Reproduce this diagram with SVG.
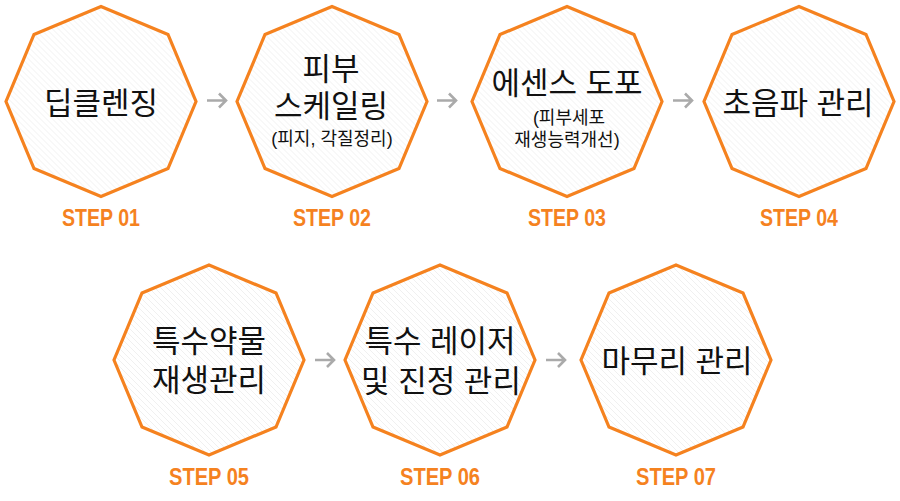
<svg xmlns="http://www.w3.org/2000/svg" width="900" height="501" viewBox="0 0 900 501">
<defs>
<pattern id="hatch" patternUnits="userSpaceOnUse" width="6" height="6">
<path d="M-1,-1 L7,7 M-1,5 L1,7 M5,-1 L7,1" stroke="#ececec" stroke-width="0.8" fill="none"/>
</pattern>
<polygon id="oct" points="0,-95 67,-67 95,0 67,67 0,95 -67,67 -95,0 -67,-67"/>
<path id="arr" d="M0,0 H19 M12,-7 L19,0 L12,7"/>
</defs>
<style>
.oct{fill:url(#hatch);stroke:#f5821f;stroke-width:3.2;stroke-linejoin:miter}
.t{font-family:"Liberation Sans","Noto Sans CJK KR",sans-serif;font-size:31px;fill:#111;text-anchor:middle}
.s{font-family:"Liberation Sans","Noto Sans CJK KR",sans-serif;font-size:18px;fill:#111;text-anchor:middle}
.st{font-family:"Liberation Sans",Arial,sans-serif;font-weight:bold;font-size:24px;fill:#f5821f;text-anchor:middle}
.a{fill:none;stroke:#aaaaaa;stroke-width:2.6}
</style>
<rect width="900" height="501" fill="#ffffff"/>
<g id="connectors">
<use href="#arr" class="a" x="207" y="100.5"/>
<use href="#arr" class="a" x="437" y="100.5"/>
<use href="#arr" class="a" x="673" y="100.5"/>
<use href="#arr" class="a" x="315" y="360"/>
<use href="#arr" class="a" x="546" y="360"/>
</g>
<g id="step01">
<use href="#oct" class="oct" x="101" y="101.5"/>
<text class="t" x="101" y="114">딥클렌징</text>
<text class="st" x="101" y="226" textLength="78" lengthAdjust="spacingAndGlyphs">STEP 01</text>
</g>
<g id="step02">
<use href="#oct" class="oct" x="332" y="101.5"/>
<text class="t"><tspan x="331" y="80">피부</tspan><tspan x="331" y="117">스케일링</tspan><tspan class="s" x="332" y="145">(피지, 각질정리)</tspan></text>
<text class="st" x="332" y="226" textLength="78" lengthAdjust="spacingAndGlyphs">STEP 02</text>
</g>
<g id="step03">
<use href="#oct" class="oct" x="567" y="101.5"/>
<text class="t"><tspan x="567" y="94">에센스 도포</tspan><tspan class="s" x="569" y="124">(피부세포</tspan><tspan class="s" x="567" y="146">재생능력개선)</tspan></text>
<text class="st" x="567" y="226" textLength="78" lengthAdjust="spacingAndGlyphs">STEP 03</text>
</g>
<g id="step04">
<use href="#oct" class="oct" x="799" y="101.5"/>
<text class="t" x="798" y="114">초음파 관리</text>
<text class="st" x="799" y="226" textLength="78" lengthAdjust="spacingAndGlyphs">STEP 04</text>
</g>
<g id="step05">
<use href="#oct" class="oct" x="209" y="360"/>
<text class="t"><tspan x="209" y="352">특수약물</tspan><tspan x="209" y="391">재생관리</tspan></text>
<text class="st" x="209" y="485" textLength="80" lengthAdjust="spacingAndGlyphs">STEP 05</text>
</g>
<g id="step06">
<use href="#oct" class="oct" x="440" y="360"/>
<text class="t"><tspan x="440" y="352">특수 레이저</tspan><tspan x="441" y="392">및 진정 관리</tspan></text>
<text class="st" x="440" y="485" textLength="80" lengthAdjust="spacingAndGlyphs">STEP 06</text>
</g>
<g id="step07">
<use href="#oct" class="oct" x="676" y="360"/>
<text class="t" x="677" y="372">마무리 관리</text>
<text class="st" x="676" y="485" textLength="80" lengthAdjust="spacingAndGlyphs">STEP 07</text>
</g>
</svg>
